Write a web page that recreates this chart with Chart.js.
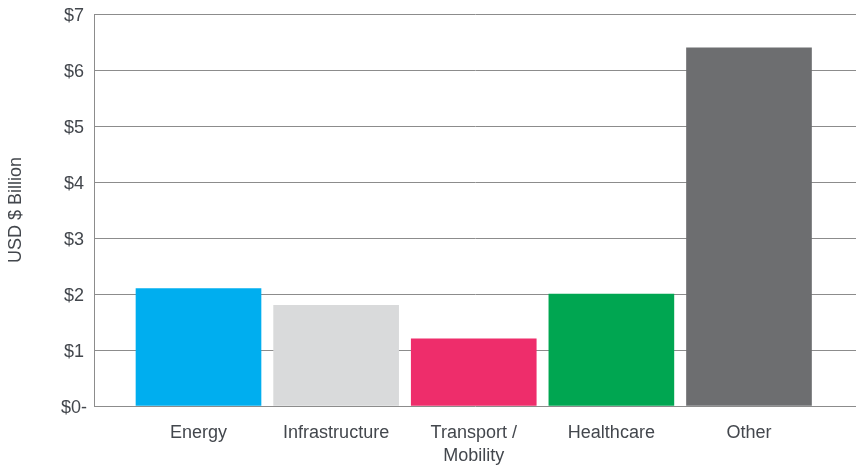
<!DOCTYPE html>
<html>
<head>
<meta charset="utf-8">
<script src="https://cdn.jsdelivr.net/npm/chart.js@4.4.0/dist/chart.umd.min.js"></script>
<style>
  html, body { margin: 0; padding: 0; background: #fff; }
  #wrap { width: 856px; height: 469px; }
</style>
</head>
<body>
<div id="wrap"><canvas id="chart"></canvas></div>
<script>
// data
const categories = ['Energy', 'Infrastructure', ['Transport /', 'Mobility'], 'Healthcare', 'Other'];
const values = [2.1, 1.8, 1.2, 2.0, 6.4];
const barColors = ['#00aeef', '#d9dadb', '#ee2d6b', '#00a651', '#6d6e70'];
const yTicks = [0, 1, 2, 3, 4, 5, 6, 7];

const textColor = '#43474d';
const gridColor = '#8c8c8c';
const fontFamily = '"Liberation Sans", Arial, Helvetica, sans-serif';
const font = { family: fontFamily, size: 18 };

new Chart(document.getElementById('chart'), {
  type: 'bar',
  data: {
    datasets: [{
      data: values.map((v, i) => ({ x: i, y: v })),
      backgroundColor: barColors,
      barThickness: 125,
      borderWidth: 0
    }]
  },
  options: {
    responsive: true,
    maintainAspectRatio: false,
    animation: false,
    layout: { padding: { top: 14, right: 0, left: 0, bottom: 0 } },
    plugins: { legend: { display: false }, tooltip: { enabled: false } },
    scales: {
      x: {
        type: 'linear',
        offset: false,
        // leaves the empty margins left and right of the bars, as in the original
        min: -0.7593,
        max: 4.7775,
        afterBuildTicks: (scale) => { scale.ticks = categories.map((c, i) => ({ value: i })); },
        afterFit: (scale) => { scale.height = 63; },
        grid: { display: false, drawTicks: false, offset: false },
        border: { display: false },
        ticks: {
          color: textColor,
          font: { family: fontFamily, size: 18, lineHeight: 1.25 },
          padding: 16,
          maxRotation: 0,
          autoSkip: false,
          callback: (v) => categories[v]
        }
      },
      y: {
        min: 0,
        max: 7,
        afterBuildTicks: (scale) => { scale.ticks = yTicks.map(v => ({ value: v })); },
        afterFit: (scale) => { scale.width = 94; },
        grid: { color: gridColor, lineWidth: 1, drawTicks: false },
        border: { display: true, color: gridColor, width: 1 },
        ticks: {
          color: textColor,
          font: { family: fontFamily, size: 18, lineHeight: 0.8 },
          padding: 7,
          labelOffset: 2,
          crossAlign: 'center',
          callback: (v) => v === 0 ? '$0-' : '$' + v
        },
        title: {
          display: true,
          text: 'USD $ Billion',
          color: textColor,
          font: font,
          padding: { top: 5, bottom: 4 }
        }
      }
    }
  }
});
</script>
</body>
</html>
